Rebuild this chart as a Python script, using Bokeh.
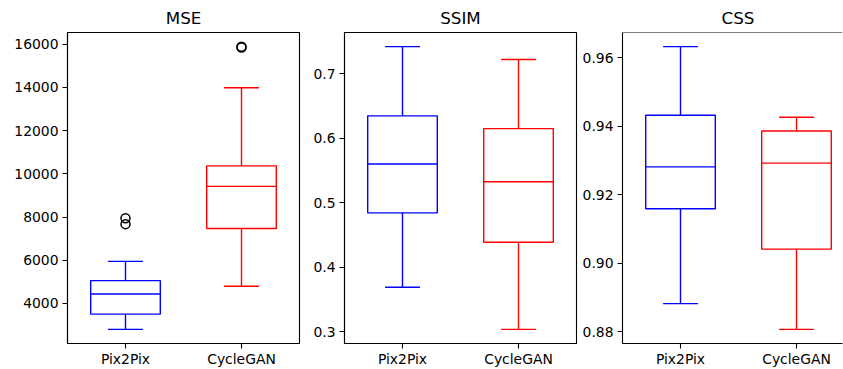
from bokeh.plotting import figure
from bokeh.layouts import row
from bokeh.models import FixedTicker, Range1d, Span, PrintfTickFormatter
from bokeh.embed import file_html
from bokeh.resources import INLINE

categories = ["Pix2Pix", "CycleGAN"]
positions = [1, 2]

# MSE
mse_low = [2803, 4798]
mse_q1 = [3507, 7466]
mse_median = [4437, 9418]
mse_q3 = [5059, 10366]
mse_high = [5947, 13980]
mse_outlier_group = [0, 0, 1, 1]
mse_outlier_values = [7669, 7945, 15840, 15880]
mse_ticks = [4000, 6000, 8000, 10000, 12000, 14000, 16000]

# SSIM
ssim_low = [0.369, 0.3036]
ssim_q1 = [0.4843, 0.4386]
ssim_median = [0.560, 0.5326]
ssim_q3 = [0.6347, 0.6148]
ssim_high = [0.742, 0.722]
ssim_outlier_group = []
ssim_outlier_values = []
ssim_ticks = [0.3, 0.4, 0.5, 0.6, 0.7]

# CSS
css_low = [0.8882, 0.8807]
css_q1 = [0.9159, 0.9041]
css_median = [0.9281, 0.9292]
css_q3 = [0.9432, 0.9386]
css_high = [0.9632, 0.9426]
css_outlier_group = []
css_outlier_values = []
css_ticks = [0.88, 0.90, 0.92, 0.94, 0.96]

COLORS = ["#0000ff", "#ff0000"]
FONT = "DejaVu Sans"
BOX_W = 0.6
CAP_W = 0.3
LW = 1.4


def make_panel(title, low, q1, med, q3, high, og, ov, yticks, yfmt, width,
               bl, br, x_end, clipped=False, title_offset=None):
    vals = low + high + ov
    vmin, vmax = min(vals), max(vals)
    pad = 0.05 * (vmax - vmin)
    p = figure(width=width, height=369, output_backend="svg", toolbar_location=None,
               x_range=Range1d(0.5, x_end), y_range=Range1d(vmin - pad, vmax + pad),
               min_border_left=bl, min_border_right=br, min_border_top=32,
               min_border_bottom=26, background_fill_color="white",
               border_fill_color="white")
    p.grid.visible = False
    p.title.text = title
    p.title.text_font = FONT
    p.title.text_font_size = "16.7px"
    p.title.text_font_style = "normal"
    p.title.text_color = "black"
    p.title.standoff = 9
    if title_offset is None:
        p.title.align = "center"
    else:
        p.title.align = "left"
        p.title.offset = title_offset

    if clipped:
        p.outline_line_color = None
        p.add_layout(Span(location=vmax + pad, dimension="width",
                          line_color="black", line_width=1.1))
    else:
        p.outline_line_color = "black"
        p.outline_line_width = 1.1
        p.outline_line_alpha = 1.0

    for ax in (p.xaxis[0], p.yaxis[0]):
        ax.axis_line_color = "black"
        ax.axis_line_width = 1.1
        ax.major_tick_line_color = "black"
        ax.major_tick_line_width = 1.1
        ax.major_tick_out = 5
        ax.major_tick_in = 0
        ax.minor_tick_line_color = None
        ax.major_label_text_font = FONT
        ax.major_label_text_font_size = "13.9px"
        ax.major_label_text_color = "black"
        ax.major_label_standoff = 4
    p.xaxis[0].major_label_standoff = 2

    p.xaxis[0].ticker = FixedTicker(ticks=positions)
    p.xaxis[0].major_label_overrides = {pos: c for pos, c in zip(positions, categories)}
    p.yaxis[0].ticker = FixedTicker(ticks=yticks)
    p.yaxis[0].formatter = PrintfTickFormatter(format=yfmt)

    for i, pos in enumerate(positions):
        c = COLORS[i]
        # whiskers
        p.segment(x0=[pos, pos], y0=[q1[i], q3[i]], x1=[pos, pos], y1=[low[i], high[i]],
                  line_color=c, line_width=LW)
        # caps
        p.segment(x0=[pos - CAP_W / 2] * 2, y0=[low[i], high[i]],
                  x1=[pos + CAP_W / 2] * 2, y1=[low[i], high[i]],
                  line_color=c, line_width=LW)
        # box
        p.quad(left=[pos - BOX_W / 2], right=[pos + BOX_W / 2], bottom=[q1[i]], top=[q3[i]],
               fill_color=None, line_color=c, line_width=LW)
        # median
        p.segment(x0=[pos - BOX_W / 2], y0=[med[i]], x1=[pos + BOX_W / 2], y1=[med[i]],
                  line_color=c, line_width=LW)
    if ov:
        p.scatter(x=[positions[g] for g in og], y=ov, size=9, marker="circle",
                  fill_color=None, line_color="black", line_width=1.5)
    return p


p1 = make_panel("MSE", mse_low, mse_q1, mse_median, mse_q3, mse_high,
                mse_outlier_group, mse_outlier_values, mse_ticks, "%d",
                width=305, bl=67, br=6, x_end=2.5)
p2 = make_panel("SSIM", ssim_low, ssim_q1, ssim_median, ssim_q3, ssim_high,
                ssim_outlier_group, ssim_outlier_values, ssim_ticks, "%.1f",
                width=273, bl=39, br=2, x_end=2.5)
p3 = make_panel("CSS", css_low, css_q1, css_median, css_q3, css_high,
                css_outlier_group, css_outlier_values, css_ticks, "%.2f",
                width=265, bl=44, br=1, x_end=0.5 + 220 / 116, clipped=True,
                title_offset=99)

layout = row(p1, p2, p3, spacing=0)
open("out.html", "w").write(file_html(layout, INLINE))
